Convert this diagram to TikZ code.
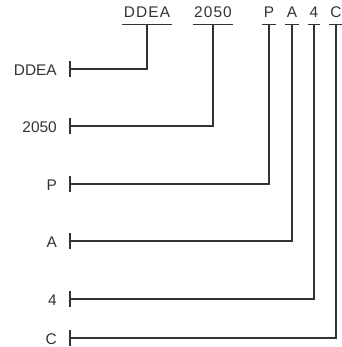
\documentclass[tikz,border=0pt]{standalone}
\usepackage{fontspec}
\setmainfont{Liberation Sans}
\usepackage{xcolor}
\usepackage{tikz}
\usetikzlibrary{positioning}

\definecolor{inkgray}{HTML}{333333}

\tikzset{
  codepart/.style={anchor=base, inner xsep=1.5pt, inner ysep=6.5bp, text=inkgray, font=\fontsize{15.5}{18}\selectfont\addfontfeature{LetterSpace=7}},
  rowlabel/.style={anchor=base east, inner sep=0pt, text=inkgray, font=\fontsize{15.5}{18}\selectfont},
  leader/.style={inkgray, line width=1.4pt},
}

\begin{document}
\begin{tikzpicture}[x=1bp, y=-1bp]
\useasboundingbox (0,0) rectangle (342,347);
% code parts on top
\node[codepart] (dd) at (147,17.5) {DDEA};
\node[codepart] (yr) at (213,17.5) {2050};
\node[codepart] (pp) at (269,17.5) {P};
\node[codepart] (aa) at (292,17.5) {A};
\node[codepart] (ff) at (314,17.5) {4};
\node[codepart] (cc) at (336,17.5) {C};
% row labels on the left
\node[rowlabel] (ldd) at (57,75) {DDEA};
\node[rowlabel] (lyr) at (57,132) {2050};
\node[rowlabel] (lpp) at (57,190) {P};
\node[rowlabel] (laa) at (57,247) {A};
\node[rowlabel] (lff) at (57,305) {4};
\node[rowlabel] (lcc) at (57,344) {C};
% tick points
\coordinate (tdd) at (70,69);
\coordinate (tyr) at (70,126);
\coordinate (tpp) at (70,184);
\coordinate (taa) at (70,241);
\coordinate (tff) at (70,299);
\coordinate (tcc) at (70,338);
% underlines, leaders and ticks
\foreach \n in {dd,yr,pp,aa,ff,cc}{
  \draw[leader] (\n.south west) -- (\n.south east);
  \draw[leader] (\n.south) |- (t\n);
  \draw[leader] ([yshift=-8bp]t\n) -- ([yshift=8bp]t\n);
}
\end{tikzpicture}
\end{document}
